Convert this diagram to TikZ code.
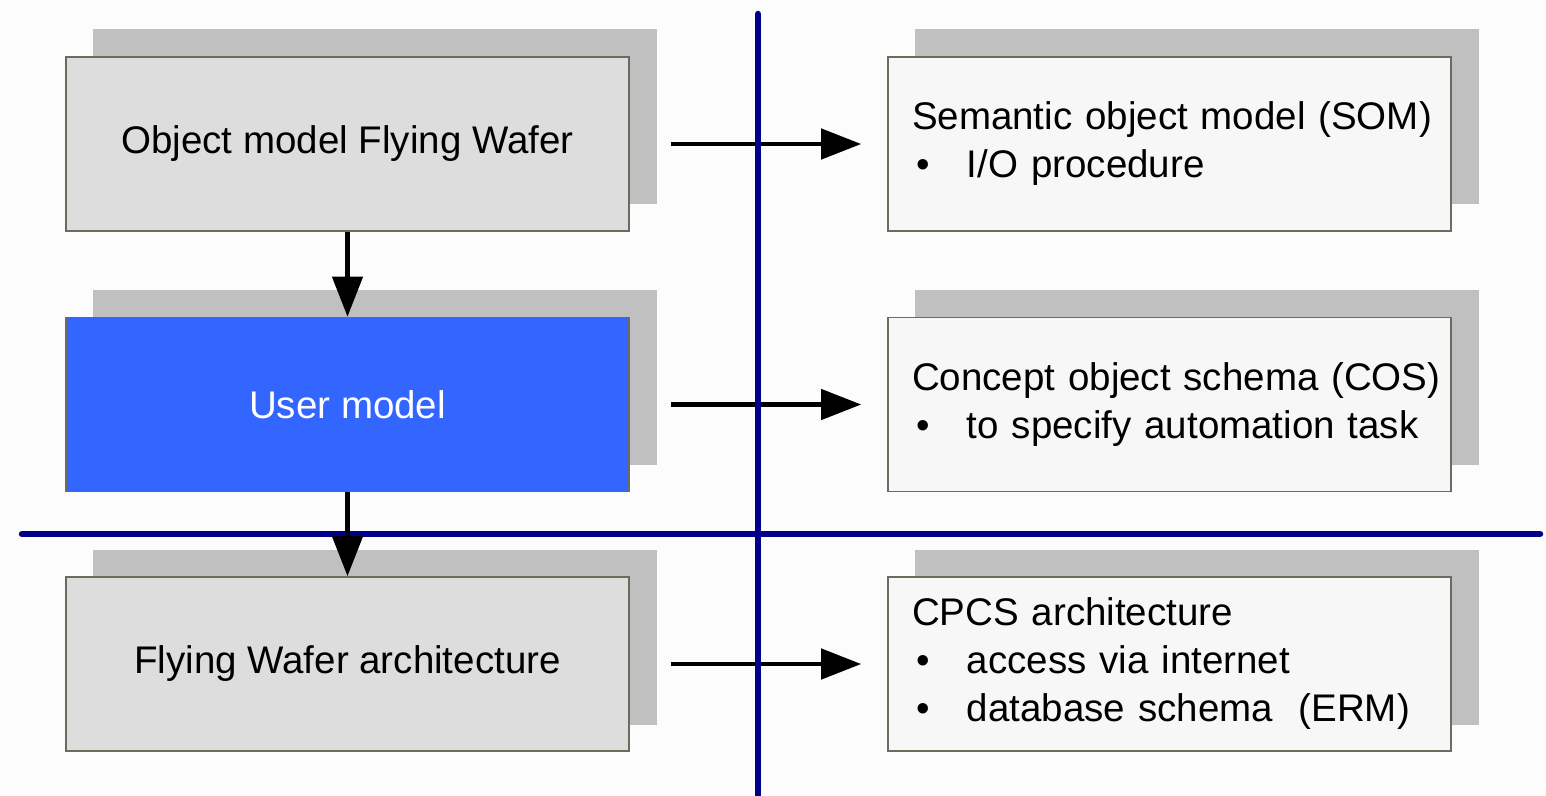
\documentclass[tikz,border=0pt]{standalone}
\usepackage{fontspec}
\setmainfont{Liberation Sans}
\usetikzlibrary{arrows.meta}
\definecolor{bgc}{HTML}{FCFCFC}
\definecolor{shadowc}{HTML}{C0C0C0}
\definecolor{leftfill}{HTML}{DDDDDD}
\definecolor{rightfill}{HTML}{F7F7F7}
\definecolor{borderc}{HTML}{6B6B5E}
\definecolor{userblue}{HTML}{3366FF}
\definecolor{navyline}{HTML}{000088}
\newcommand{\bitem}[1]{\mbox{\makebox[55pt][l]{\hspace{4pt}\textbullet}#1}}
\begin{document}
\begin{tikzpicture}[x=1pt,y=-1pt,
  txt/.style={font=\fontsize{38.5}{48}\selectfont},
  leftbox/.style={txt, draw=borderc, line width=1.6pt, fill=leftfill, minimum width=563pt, minimum height=174pt, inner sep=0pt},
  rightbox/.style={txt, draw=borderc, line width=1.6pt, fill=rightfill, minimum width=563pt, minimum height=174pt, text width=515pt, align=left, inner xsep=24pt, inner ysep=0pt},
  arr/.style={line width=4.5pt, -{Triangle[length=40pt,width=30pt]}},
  divider/.style={navyline, line width=6.5pt, line cap=round}
]
\useasboundingbox (0,0) rectangle (1546,795);
\fill[bgc] (0,0) rectangle (1546,795);

% shadows
\foreach \y in {29,290,550}{
  \fill[shadowc] (93,\y) rectangle (657,\y+175);
  \fill[shadowc] (915,\y) rectangle (1479,\y+175);
}

% left boxes
\node[leftbox] (b1) at (347.5,144) {Object model Flying Wafer};
\node[leftbox, fill=userblue, text=white] (b2) at (347.5,404.5) {User model};
\node[leftbox] (b3) at (347.5,664) {Flying Wafer architecture};

% right boxes
\node[rightbox] (r1) at (1169.5,144) {\mbox{Semantic object model (SOM)}\\\bitem{I/O procedure}};
\node[rightbox] (r2) at (1169.5,404.5) {\mbox{Concept object schema (COS)}\\\bitem{to specify automation task}};
\node[rightbox] (r3) at (1169.5,664) {\mbox{CPCS architecture}\\\bitem{access via internet}\\\bitem{database schema\ \ (ERM)}};

% horizontal arrows
\draw[arr, shorten <=41pt, shorten >=26pt] (b1.east) -- (r1.west);
\draw[arr, shorten <=41pt, shorten >=26pt] (b2.east) -- (r2.west);
\draw[arr, shorten <=41pt, shorten >=26pt] (b3.east) -- (r3.west);

% dividers
\coordinate (vtop) at (758,14);
\coordinate (vbot) at (758,800);
\coordinate (hl) at (22,534);
\coordinate (hr) at (1540,534);
\draw[divider] (vtop) -- (vbot);
\draw[divider] (hl) -- (hr);

% vertical arrows
\draw[arr] (b1.south) -- (b2.north);
\draw[arr] (b2.south) -- (b3.north);
\end{tikzpicture}
\end{document}
